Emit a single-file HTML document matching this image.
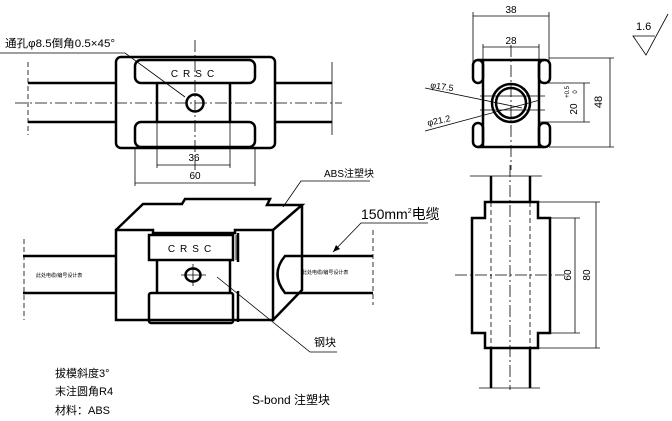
<!DOCTYPE html>
<html><head><meta charset="utf-8"><style>
html,body{margin:0;padding:0;background:#fff;}
svg{display:block;}
text{font-family:"Liberation Sans","Noto Sans CJK SC",sans-serif;fill:#000;}
.b{stroke:#000;stroke-width:2.5;fill:none;}
.t{stroke:#000;stroke-width:0.8;fill:none;}
.c{stroke:#000;stroke-width:0.8;fill:none;stroke-dasharray:12 3 2 3;}
.d{stroke:#000;stroke-width:0.8;fill:none;stroke-dasharray:5 3;}
</style></head><body>
<svg width="672" height="421" viewBox="0 0 672 421" xmlns="http://www.w3.org/2000/svg">
<!-- TOP LEFT VIEW -->
<text x="5" y="47" font-size="11" textLength="110" lengthAdjust="spacingAndGlyphs">通孔φ8.5倒角0.5×45°</text>
<polyline class="t" points="0,53 125,53 185,97"/>
<line class="b" x1="28" y1="83" x2="116" y2="83"/>
<line class="b" x1="28" y1="122" x2="116" y2="122"/>
<line class="b" x1="275" y1="83" x2="332" y2="83"/>
<line class="b" x1="275" y1="122" x2="332" y2="122"/>
<line class="d" x1="28" y1="62" x2="28" y2="135"/>
<line class="t" x1="332" y1="62" x2="332" y2="135"/>
<rect class="b" x="116" y="57" width="159" height="91" rx="5"/>
<rect class="b" x="135" y="60" width="120" height="23" rx="6"/>
<rect class="b" x="135" y="122" width="120" height="25" rx="6"/>
<line class="b" x1="157" y1="84" x2="157" y2="122"/>
<line class="b" x1="230" y1="84" x2="230" y2="122"/>
<circle class="b" cx="195" cy="103" r="8.5"/>
<text x="195" y="77" font-size="10" text-anchor="middle" letter-spacing="5">CRSC</text>
<line class="c" x1="15" y1="103" x2="342" y2="103"/>
<line class="c" x1="195" y1="40" x2="195" y2="170"/>
<line class="t" x1="157" y1="122" x2="157" y2="168"/>
<line class="t" x1="230" y1="122" x2="230" y2="168"/>
<line class="t" x1="157" y1="165" x2="230" y2="165"/>
<text x="194" y="161" font-size="10" text-anchor="middle">36</text>
<line class="t" x1="135" y1="147" x2="135" y2="186"/>
<line class="t" x1="255" y1="147" x2="255" y2="186"/>
<line class="t" x1="135" y1="183" x2="255" y2="183"/>
<text x="195" y="179" font-size="10" text-anchor="middle">60</text>

<!-- 3D VIEW -->
<polyline class="b" points="116,230 143,204 182,204 185,199 270,199 267,205 302,205 273,230"/>
<polyline class="b" points="302,205 302,290 273,320"/>
<path class="b" d="M116,230 L153,230 L153,233 L235,233 L235,230 L273,230 L273,320 L116,320 Z"/>
<rect class="b" x="149" y="235" width="84" height="25"/>
<line class="t" x1="236" y1="235" x2="236" y2="260"/>
<line class="b" x1="238" y1="233" x2="238" y2="262"/>
<line class="b" x1="157" y1="260" x2="157" y2="293"/>
<line class="b" x1="230" y1="260" x2="230" y2="293"/>
<rect class="b" x="149" y="293" width="84" height="30" rx="2"/>
<line class="b" x1="238" y1="291" x2="238" y2="322"/>
<text x="192" y="252" font-size="10" text-anchor="middle" letter-spacing="5">CRSC</text>
<ellipse class="b" cx="193" cy="275" rx="7.5" ry="6.5"/>
<line class="t" x1="181" y1="275" x2="206" y2="275"/>
<line class="t" x1="193" y1="264" x2="193" y2="286"/>
<line class="b" x1="23" y1="256" x2="116" y2="256"/>
<line class="b" x1="23" y1="293" x2="116" y2="293"/>
<line class="d" x1="24" y1="239" x2="24" y2="320"/>
<text x="36" y="277" font-size="5">此处电缆/编号设计表</text>
<path class="b" d="M373,256 L285,256 Q270,274 285,293 L373,293"/>
<line class="d" x1="373" y1="230" x2="373" y2="305"/>
<text x="302" y="274" font-size="5">此处电缆/编号设计表</text>
<text x="324" y="177" font-size="10">ABS注塑块</text>
<polyline class="t" points="370,181 301,181 283,207"/>
<text x="361" y="219" font-size="14">150mm<tspan font-size="7" dy="-6">2</tspan><tspan dy="6">电缆</tspan></text>
<polyline class="t" points="428,223 361,223 333,252"/>
<polygon points="333,252 336,245 340,249" fill="#000"/>
<text x="314" y="346" font-size="11">钢块</text>
<polyline class="t" points="337,352 310,352 217,277"/>
<text x="55" y="377" font-size="11">拔模斜度3°</text>
<text x="55" y="395" font-size="11">末注圆角R4</text>
<text x="55" y="414" font-size="11">材料：ABS</text>
<text x="252" y="404" font-size="12">S-bond 注塑块</text>

<!-- RIGHT TOP VIEW -->
<line class="t" x1="473" y1="12" x2="473" y2="62"/>
<line class="t" x1="549" y1="12" x2="549" y2="62"/>
<line class="t" x1="473" y1="16" x2="549" y2="16"/>
<text x="511" y="13" font-size="10" text-anchor="middle">38</text>
<line class="t" x1="483" y1="44" x2="483" y2="60"/>
<line class="t" x1="539" y1="44" x2="539" y2="60"/>
<line class="t" x1="483" y1="47" x2="539" y2="47"/>
<text x="511" y="44" font-size="10" text-anchor="middle">28</text>
<line class="b" x1="478" y1="60" x2="544" y2="60"/>
<line class="b" x1="478" y1="147" x2="544" y2="147"/>
<line class="b" x1="483" y1="60" x2="483" y2="147"/>
<line class="b" x1="539" y1="60" x2="539" y2="147"/>
<rect class="b" x="473" y="60" width="10" height="23" rx="5"/>
<rect class="b" x="473" y="123" width="10" height="24" rx="5"/>
<rect class="b" x="539" y="60" width="11" height="23" rx="5"/>
<rect class="b" x="539" y="123" width="11" height="24" rx="5"/>
<circle class="b" cx="511" cy="103" r="19"/>
<circle class="b" cx="511" cy="103" r="15"/>
<line class="c" x1="511" y1="45" x2="511" y2="170"/>
<line class="t" x1="480" y1="96" x2="545" y2="96"/>
<line class="t" x1="480" y1="110" x2="545" y2="110"/>
<text x="430" y="88" font-size="9" transform="rotate(8 430 88)">φ17.5</text>
<line class="t" x1="425" y1="88" x2="522" y2="108"/>
<text x="428" y="126" font-size="9" transform="rotate(-12 428 126)">φ21.2</text>
<line class="t" x1="425" y1="131" x2="540" y2="100"/>
<line class="t" x1="540" y1="83" x2="590" y2="83"/>
<line class="t" x1="540" y1="122" x2="590" y2="122"/>
<line class="t" x1="584" y1="83" x2="584" y2="122"/>
<text x="0" y="0" font-size="10" transform="translate(577,109) rotate(-90)" text-anchor="middle">20</text>
<text x="0" y="0" font-size="6" transform="translate(569,92) rotate(-90)" text-anchor="middle">+0.5</text>
<text x="0" y="0" font-size="6" transform="translate(577,92) rotate(-90)" text-anchor="middle">0</text>
<line class="t" x1="549" y1="58" x2="614" y2="58"/>
<line class="t" x1="549" y1="147" x2="614" y2="147"/>
<line class="t" x1="610" y1="58" x2="610" y2="147"/>
<text x="0" y="0" font-size="11" transform="translate(602,102) rotate(-90)" text-anchor="middle">48</text>
<text x="636" y="30" font-size="11">1.6</text>
<polyline class="t" points="655,36 633,36 646,55 668,14"/>

<!-- RIGHT BOTTOM VIEW -->
<line class="t" x1="470" y1="176" x2="542" y2="176"/>
<line class="t" x1="479" y1="388" x2="540" y2="388"/>
<line class="b" x1="491" y1="176" x2="491" y2="202"/>
<line class="b" x1="530" y1="176" x2="530" y2="202"/>
<line class="b" x1="491" y1="348" x2="491" y2="388"/>
<line class="b" x1="530" y1="348" x2="530" y2="388"/>
<polygon class="b" points="485,202 538,202 538,218 550,218 550,333 538,333 538,348 485,348 485,333 472,333 472,218 485,218"/>
<line class="d" x1="491" y1="202" x2="491" y2="348"/>
<line class="d" x1="530" y1="202" x2="530" y2="348"/>
<line class="c" x1="510" y1="165" x2="510" y2="390"/>
<line class="c" x1="455" y1="275" x2="565" y2="275"/>
<line class="t" x1="550" y1="218" x2="580" y2="218"/>
<line class="t" x1="550" y1="333" x2="580" y2="333"/>
<line class="t" x1="575" y1="218" x2="575" y2="333"/>
<text x="0" y="0" font-size="10" transform="translate(571,275) rotate(-90)" text-anchor="middle">60</text>
<line class="t" x1="538" y1="202" x2="600" y2="202"/>
<line class="t" x1="538" y1="348" x2="600" y2="348"/>
<line class="t" x1="596" y1="202" x2="596" y2="348"/>
<text x="0" y="0" font-size="10" transform="translate(590,275) rotate(-90)" text-anchor="middle">80</text>
</svg>
</body></html>
